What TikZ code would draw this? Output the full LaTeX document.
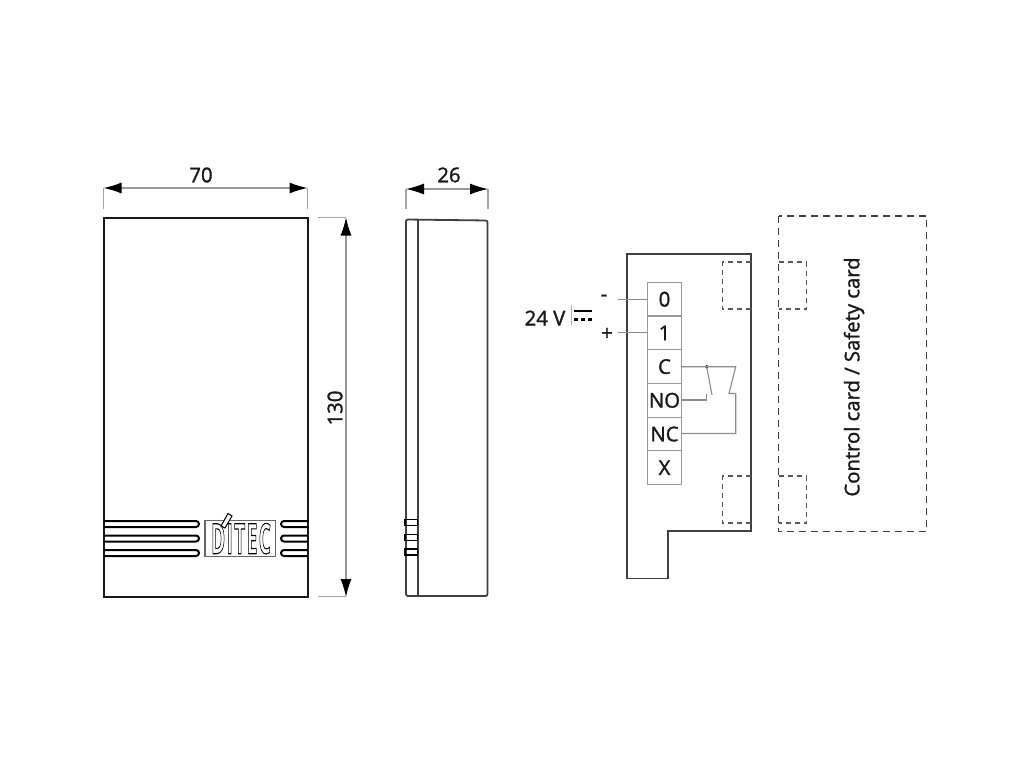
\documentclass[tikz,border=0pt]{standalone}
\usepackage{fontspec}
\setmainfont{Open Sans}
\usetikzlibrary{arrows.meta}
\newcommand{\heavy}[1]{\special{pdf:code q 2 Tr 0.3 w}#1\special{pdf:code Q}}
\tikzset{
  x=1pt,y=-1pt,
  body/.style={draw=black!90,line width=2pt,line join=miter},
  thin body/.style={draw=black!75,line width=1.8pt},
  ext/.style={draw=black!35,line width=1.1pt},
  dim/.style={draw=black!40,line width=1.2pt,{Latex[length=18pt,width=11pt,black]}-{Latex[length=18pt,width=11pt,black]}},
  lab/.style={font=\fontsize{20.3}{24}\selectfont,text=black!90,inner sep=0pt},
  cell/.style={draw=black!40,line width=1.2pt,minimum width=33.4pt,minimum height=33.7pt,inner sep=0pt,font=\fontsize{20.3}{24}\selectfont,text=black!90},
  wire/.style={draw=black!45,line width=1.1pt},
  dsh/.style={draw=black!65,line width=1.2pt,dash pattern=on 5pt off 4pt},
  dshb/.style={draw=black!75,line width=1.6pt,dash pattern=on 7pt off 5pt},
  stripe/.style={draw=black,line width=2pt,rounded corners=3pt},
}
\begin{document}
\begin{tikzpicture}
\useasboundingbox (0,0) rectangle (1024,768);
\fill[white] (0,0) rectangle (1024,768);
% front view
\draw[body] (103.5,217.5) rectangle (307.5,597);
\foreach \y in {521,535.5,550}{
  \draw[stripe] (103.5,\y) -- (199,\y) -- (199,\y+6) -- (103.5,\y+6);
  \draw[stripe] (307.5,\y) -- (281,\y) -- (281,\y+6) -- (307.5,\y+6);
}
\node[draw=black!60,line width=1.3pt,fill=white,minimum width=70.5pt,minimum height=36pt,inner sep=0pt] (logo) at (240.3,538.7) {};
\node[inner sep=0pt,xscale=0.455] (logotext) at (241,538.7) {\special{pdf:code q 1 Tr 1.1 w}\fontsize{42}{42}\selectfont\bfseries D\kern 3pt I\kern 3pt T\kern 3pt E\kern 3pt C\special{pdf:code Q}};
\draw[draw=black,line width=1pt,fill=white] (228,513.5) -- (232,516) -- (225,528) -- (221,526) -- cycle;
% dimensions front
\coordinate (w1) at (103.5,188); \coordinate (w2) at (307.5,188);
\draw[ext] (103.5,188) -- (103.5,209); \draw[ext] (307.5,188) -- (307.5,209);
\draw[dim] (w1) -- (w2);
\node[lab] (l70) at (201,175) {\heavy{70}};
\coordinate (h1) at (346,217.5); \coordinate (h2) at (346,597);
\draw[ext] (318,217.5) -- (346,217.5); \draw[ext] (318,596.5) -- (346,596.5);
\draw[dim] (h1) -- (h2);
\node[lab,rotate=90] (l130) at (335,408) {\heavy{130}};
% side view
\draw[thin body,rounded corners=2pt] (406,219.5) -- (487.5,220.5) -- (487.5,596) -- (406,596) -- cycle;
\draw[thin body] (418,219.5) -- (418,596);
\foreach \y in {519.5,534.5,549}{
  \draw[draw=black,line width=1.8pt] (405,\y) rectangle (417.5,\y+6);
}
\coordinate (s1) at (406,189); \coordinate (s2) at (488,189);
\draw[ext] (406,189) -- (406,209); \draw[ext] (488,189) -- (488,209);
\draw[dim] (s1) -- (s2);
\node[lab] (l26) at (449,175) {\heavy{26}};
% board
\draw[thin body] (627,254) -- (751,254) -- (751,531) -- (668,531) -- (668,578.5) -- (627,578.5) -- cycle;
\draw[dsh] (751,262) -- (722.5,262) -- (722.5,309) -- (751,309);
\draw[dsh] (751,476) -- (722.5,476) -- (722.5,523) -- (751,523);
% card
\draw[dshb] (778.5,216) rectangle (926.5,531.5);
\draw[dsh] (779,262) -- (806.5,262) -- (806.5,309) -- (779,309);
\draw[dsh] (779,476) -- (806.5,476) -- (806.5,523) -- (779,523);
\node[lab,rotate=90] (card) at (854,377) {\heavy{Control card / Safety card}};
% terminals
\node[cell] (t0) at (664.5,299.2) {\heavy{0}};
\node[cell] (t1) at (664.5,332.9) {\heavy{1}};
\node[cell] (tC) at (664.5,366.6) {\heavy{C}};
\node[cell] (tNO) at (664.5,400.3) {\heavy{NO}};
\node[cell] (tNC) at (664.5,434) {\heavy{NC}};
\node[cell] (tX) at (664.5,467.7) {\heavy{X}};
% supply
\coordinate (p0) at (617.5,299.2); \coordinate (p1) at (617.5,332.9);
\draw[wire] (p0) -- (t0.west);
\draw[wire] (p1) -- (t1.west);
\node[lab] (minus) at (604,298) {\heavy{-}};
\node[lab] (plus) at (607,334) {\heavy{+}};
\node[lab] (v24) at (545,318) {\heavy{24 V}};
\draw[draw=black!30,line width=0.8pt] (571,305) -- (571,325);
\draw[draw=black,line width=2.6pt] (574,311) -- (592,311);
\draw[draw=black,line width=2.6pt,dash pattern=on 4pt off 3pt] (574,319.5) -- (592,319.5);
% relay
\coordinate (dot) at (706.7,366.7);
\fill[black] (dot) circle (1.9pt);
\coordinate (nc1) at (735.7,366.7);
\draw[wire] (tC.east |- dot) -- (nc1) -- (729,393.5) -- (735.7,393.5) -- (735.7,433.5) -- (tNC.east |- 0,433.5);
\draw[wire] (dot) -- (712,395);
\draw[wire] (tNO.east |- 0,400) -- (706.7,400) -- (706.7,394);
\end{tikzpicture}
\end{document}
